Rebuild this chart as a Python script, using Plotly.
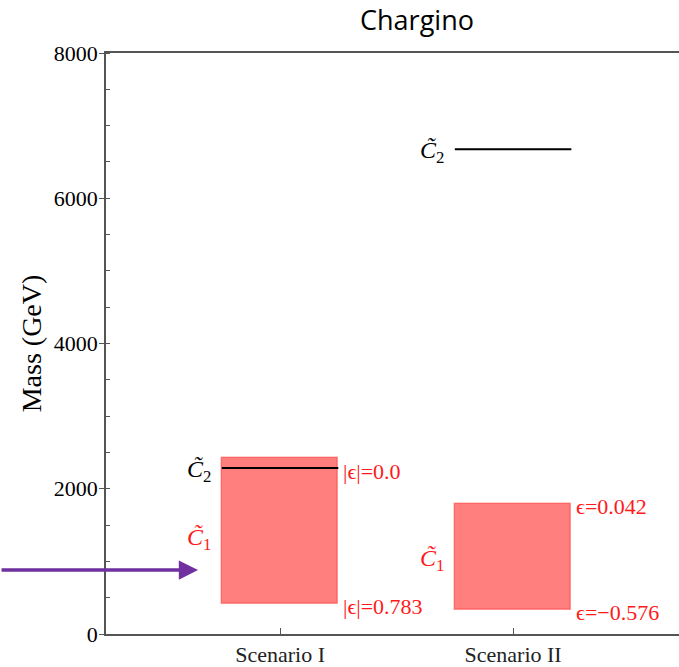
import plotly.graph_objects as go

# Scenario categories and their x positions
scenarios = ["Scenario I", "Scenario II"]
scenario_pos = [0, 1]

# Lightest chargino mass band (GeV) per scenario
c1_low = [409, 330]
c1_high = [2419, 1790]

# Heavier chargino mass (GeV) per scenario
c2_mass = [2286, 6674]

# Epsilon labels at the band edges
eps_high_labels = ["|ϵ|=0.0", "ϵ=0.042"]
eps_low_labels = ["|ϵ|=0.783", "ϵ=−0.576"]

# Reference mass marked by the arrow (GeV)
arrow_mass = 880

y_ticks = [0, 2000, 4000, 6000, 8000]

SERIF = "Liberation Serif, Times New Roman, serif"
RED = "#ff1a1a"
AXIS = "#555555"
HALF = 0.25

fig = go.Figure()

# C1 mass bands
fig.add_trace(go.Bar(
    x=scenario_pos,
    base=c1_low,
    y=[h - l for h, l in zip(c1_high, c1_low)],
    width=2 * HALF,
    marker=dict(color="rgba(255,0,0,0.5)",
                line=dict(color="rgba(255,0,0,0.35)", width=1.5)),
    showlegend=False,
    hoverinfo="skip",
))

# C2 mass lines
for xp, m in zip(scenario_pos, c2_mass):
    fig.add_trace(go.Scatter(
        x=[xp - HALF, xp + HALF], y=[m, m], mode="lines",
        line=dict(color="black", width=2), showlegend=False, hoverinfo="skip",
    ))

c1_txt = "<i>C̃</i><sub>1</sub>"
c2_txt = "<i>C̃</i><sub>2</sub>"

ann = []
for i, xp in enumerate(scenario_pos):
    mid = (c1_low[i] + c1_high[i]) / 2
    # C1 label left of band
    ann.append(dict(x=xp - HALF, y=mid, text=c1_txt, showarrow=False,
                    xanchor="right", xshift=-9, yshift=(-8 if i == 0 else -3),
                    font=dict(family=SERIF, size=24, color=RED)))
    # C2 label left of line
    ann.append(dict(x=xp - HALF, y=c2_mass[i], text=c2_txt, showarrow=False,
                    xanchor="right", xshift=-9, yshift=-3,
                    font=dict(family=SERIF, size=24, color="black")))
    # epsilon labels right of band
    ann.append(dict(x=xp + HALF, y=c1_high[i], text=eps_high_labels[i], showarrow=False,
                    xanchor="left", xshift=3, yshift=(-13 if i == 0 else -2),
                    font=dict(family=SERIF, size=22, color=RED)))
    ann.append(dict(x=xp + HALF, y=c1_low[i], text=eps_low_labels[i], showarrow=False,
                    xanchor="left", xshift=3, yshift=-2,
                    font=dict(family=SERIF, size=22, color=RED)))

# Arrow marking the reference mass
ann.append(dict(x=-0.352, y=arrow_mass, ax=-198, ay=0, axref="pixel", ayref="pixel",
                showarrow=True, arrowhead=2, arrowsize=1.1, arrowwidth=3.5,
                arrowcolor="#7030a0", text=""))

fig.update_layout(
    width=679, height=667,
    margin=dict(l=106, r=0, t=53, b=33),
    plot_bgcolor="white", paper_bgcolor="white",
    bargap=0,
    title=dict(text="Chargino", x=417 / 679, xref="container", xanchor="center",
               y=1 - 21 / 667, yref="container", yanchor="middle",
               font=dict(family="Open Sans, sans-serif", size=27, color="black")),
    annotations=ann,
    xaxis=dict(
        range=[-0.747, 1.712], tickvals=scenario_pos, ticktext=scenarios,
        ticks="inside", ticklen=6, tickcolor=AXIS, tickwidth=1,
        showline=True, linecolor=AXIS, linewidth=1.5, mirror=True,
        showgrid=False, zeroline=False,
        tickfont=dict(family=SERIF, size=22, color="#222222"),
    ),
    yaxis=dict(
        range=[0, 8000], tickvals=y_ticks,
        ticks="outside", ticklen=5, tickcolor=AXIS, tickwidth=1,
        ticklabelstandoff=-3,
        minor=dict(dtick=500, ticks="inside", ticklen=4, tickcolor=AXIS, showgrid=False),
        showline=True, linecolor=AXIS, linewidth=1.5, mirror=False,
        showgrid=False, zeroline=False,
        tickfont=dict(family=SERIF, size=22, color="black"),
        title=dict(text="Mass (GeV)", standoff=4,
                   font=dict(family=SERIF, size=28, color="black")),
    ),
)

fig.write_html("out.html")
